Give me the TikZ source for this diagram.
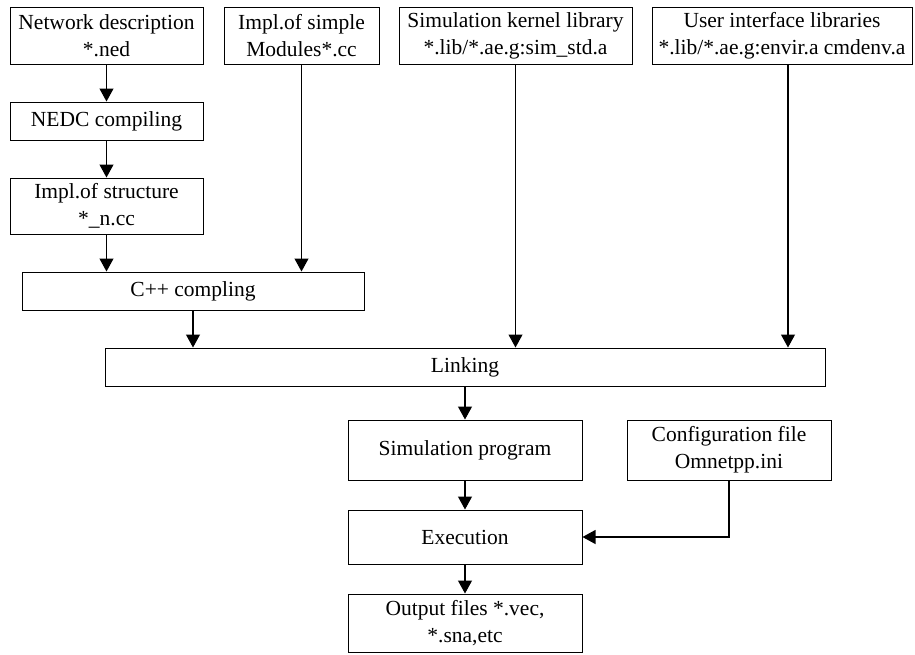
\documentclass[tikz,border=0pt]{standalone}
\usepackage{fontspec}
\setmainfont{Liberation Serif}
\usepackage{tikz}
\usetikzlibrary{arrows.meta,positioning,calc}

\begin{document}
\begin{tikzpicture}[
    x=1pt, y=-1pt,
    box/.style={draw, line width=1pt, inner sep=0pt, align=center,
        minimum width=#1, font=\fontsize{21.5}{27}\selectfont},
    arr/.style={-{Triangle[length=13pt, width=14pt]}, line width=1.1pt}
]
\useasboundingbox (0,0) rectangle (915,654);

% top row of inputs
\node[box=193pt, minimum height=57pt] (ned) at (106.5,35.5) {Network description\\*.ned};
\node[box=155pt, minimum height=57pt] (simple) at (301.5,35.5) {Impl.of simple\\Modules*.cc};
\node[box=233pt, minimum height=57pt] (kernel) at (515.5,35.5) {Simulation kernel library\\*.lib/*.ae.g:sim\_std.a};
\node[box=260pt, minimum height=57pt] (ui) at (782,35.5) {User interface libraries\\*.lib/*.ae.g:envir.a cmdenv.a};

% compile chain
\node[box=193pt, minimum height=38pt] (nedc) at (106.5,121) {NEDC compiling};
\node[box=193pt, minimum height=56pt] (struct) at (106.5,206) {Impl.of structure\\*\_n.cc};
\node[box=342pt, minimum height=38pt] (cpp) at (193,291) {C++ compling};
\node[box=720pt, minimum height=38pt] (link) at (465,367) {Linking};

% run chain
\node[box=234pt, minimum height=60pt] (prog) at (465,450) {Simulation program};
\node[box=204pt, minimum height=60pt] (conf) at (729,450) {Configuration file\\Omnetpp.ini};
\node[box=234pt, minimum height=54pt] (exec) at (465,537) {Execution};
\node[box=234pt, minimum height=58pt] (out) at (465,623) {Output files *.vec,\\*.sna,etc};

\draw[arr] (ned) -- (nedc);
\draw[arr] (nedc) -- (struct);
\draw[arr] (struct) -- (struct |- cpp.north);
\draw[arr] (simple) -- (simple |- cpp.north);
\draw[arr] (cpp) -- (cpp |- link.north);
\draw[arr] (kernel) -- (kernel |- link.north);
\draw[arr] ([xshift=6pt]ui.south) -- ([xshift=6pt]ui.south |- link.north);
\draw[arr] (link) -- (prog);
\draw[arr] (prog) -- (exec);
\draw[arr] (conf.south) |- (exec.east);
\draw[arr] (exec) -- (out);
\end{tikzpicture}
\end{document}
